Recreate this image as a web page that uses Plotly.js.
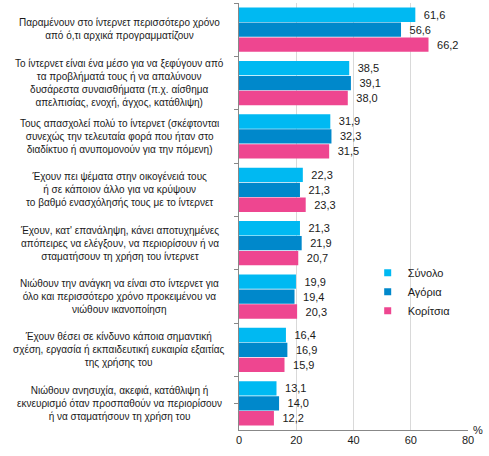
<!DOCTYPE html>
<html>
<head>
<meta charset="utf-8">
<script src="https://cdn.plot.ly/plotly-3.0.1.min.js"></script>
<style>html,body{margin:0;padding:0;background:#fff;}#chart{width:489px;height:456px;}</style>
</head>
<body>
<div id="chart"></div>
<script>
const categories = [
  "Παραμένουν στο ίντερνετ περισσότερο χρόνο<br>από ό,τι αρχικά προγραμματίζουν",
  "Το ίντερνετ είναι ένα μέσο για να ξεφύγουν από<br>τα προβλήματά τους ή να απαλύνουν<br>δυσάρεστα συναισθήματα (π.χ. αίσθημα<br>απελπισίας, ενοχή, άγχος, κατάθλιψη)",
  "Τους απασχολεί πολύ το ίντερνετ (σκέφτονται<br>συνεχώς την τελευταία φορά που ήταν στο<br>διαδίκτυο ή ανυπομονούν για την πόμενη)",
  "Έχουν πει ψέματα στην οικογένειά τους<br>ή σε κάποιον άλλο για να κρύψουν<br>το βαθμό ενασχόλησής τους με το ίντερνετ",
  "Έχουν, κατ' επανάληψη, κάνει αποτυχημένες<br>απόπειρες να ελέγξουν, να περιορίσουν ή να<br>σταματήσουν τη χρήση του ίντερνετ",
  "Νιώθουν την ανάγκη να είναι στο ίντερνετ για<br>όλο και περισσότερο χρόνο προκειμένου να<br>νιώθουν ικανοποίηση",
  "Έχουν θέσει σε κίνδυνο κάποια σημαντική<br>σχέση, εργασία ή εκπαιδευτική ευκαιρία εξαιτίας<br>της χρήσης του",
  "Νιώθουν ανησυχία, ακεφιά, κατάθλιψη ή<br>εκνευρισμό όταν προσπαθούν να περιορίσουν<br>ή να σταματήσουν τη χρήση του"
];
const seriesNames = ["Σύνολο", "Αγόρια", "Κορίτσια"];
const total = [61.6, 38.5, 31.9, 22.3, 21.3, 19.9, 16.4, 13.1];
const boys  = [56.6, 39.1, 32.3, 21.3, 21.9, 19.4, 16.9, 14.0];
const girls = [66.2, 38.0, 31.5, 23.3, 20.7, 20.3, 15.9, 12.2];
const xTicks = [0, 20, 40, 60, 80];

const colors = ["#00B9F2", "#0088CB", "#EE4690"];
const FONT = "Liberation Sans, Arial, sans-serif";
const yIdx = categories.map((c, i) => i);

const traces = [total, boys, girls].map((vals, k) => ({
  type: "bar",
  orientation: "h",
  name: seriesNames[k],
  x: vals,
  y: yIdx,
  marker: {color: colors[k]},
  text: vals.map(v => "\u2002" + v.toFixed(1).replace(".", ",")),
  texttemplate: "%{text}",
  textposition: "outside",
  cliponaxis: false,
  textfont: {family: FONT, size: 11, color: "#1a1a1a"},
  hoverinfo: "skip",
  showlegend: false
}));

// legend entries with small square markers
seriesNames.forEach((n, k) => {
  traces.push({
    type: "scatter", mode: "markers", name: n,
    x: [null], y: [null],
    marker: {symbol: "square", size: 7, color: colors[k]},
    showlegend: true, hoverinfo: "skip"
  });
});

const annotations = categories.map((c, i) => ({
  text: c, xref: "paper", yref: "y", x: -0.524, y: i,
  xanchor: "center", yanchor: "middle", align: "center",
  showarrow: false, font: {family: FONT, size: 10, color: "#1a1a1a"}
}));
annotations.push({
  text: "%", xref: "paper", yref: "paper", x: 1.0, y: 0, xshift: 3,
  xanchor: "left", yanchor: "middle", showarrow: false,
  font: {family: FONT, size: 11, color: "#1a1a1a"}
});

const layout = {
  width: 489, height: 456,
  margin: {l: 239, r: 21, t: 3, b: 26},
  paper_bgcolor: "#fff", plot_bgcolor: "#fff",
  barmode: "group", bargap: 0.16, bargroupgap: 0.04,
  separators: ", ",
  font: {family: FONT, size: 11, color: "#1a1a1a"},
  xaxis: {
    range: [0, 80], tickvals: xTicks, ticktext: xTicks.map(String),
    showgrid: true, gridcolor: "#d9d9d9", gridwidth: 1,
    showline: true, linecolor: "#888888", linewidth: 1,
    ticks: "", zeroline: false,
    tickfont: {family: FONT, size: 11, color: "#1a1a1a"}, fixedrange: true
  },
  yaxis: {
    type: "linear", range: [7.5, -0.5],
    tickvals: yIdx.concat([yIdx.length - 0.5]).map(v => v - 0.5),
    showticklabels: false, ticks: "outside", ticklen: 4, tickcolor: "#888888",
    showgrid: false, zeroline: false,
    showline: true, linecolor: "#888888", linewidth: 1, fixedrange: true
  },
  legend: {
    x: 0.562, y: 0.402, xanchor: "left", yanchor: "top",
    bgcolor: "rgba(0,0,0,0)", font: {family: FONT, size: 11, color: "#1a1a1a"},
    itemwidth: 30, tracegroupgap: 0
  },
  annotations: annotations,
  showlegend: true
};

Plotly.newPlot("chart", traces, layout, {displayModeBar: false, staticPlot: true});
</script>
</body>
</html>
